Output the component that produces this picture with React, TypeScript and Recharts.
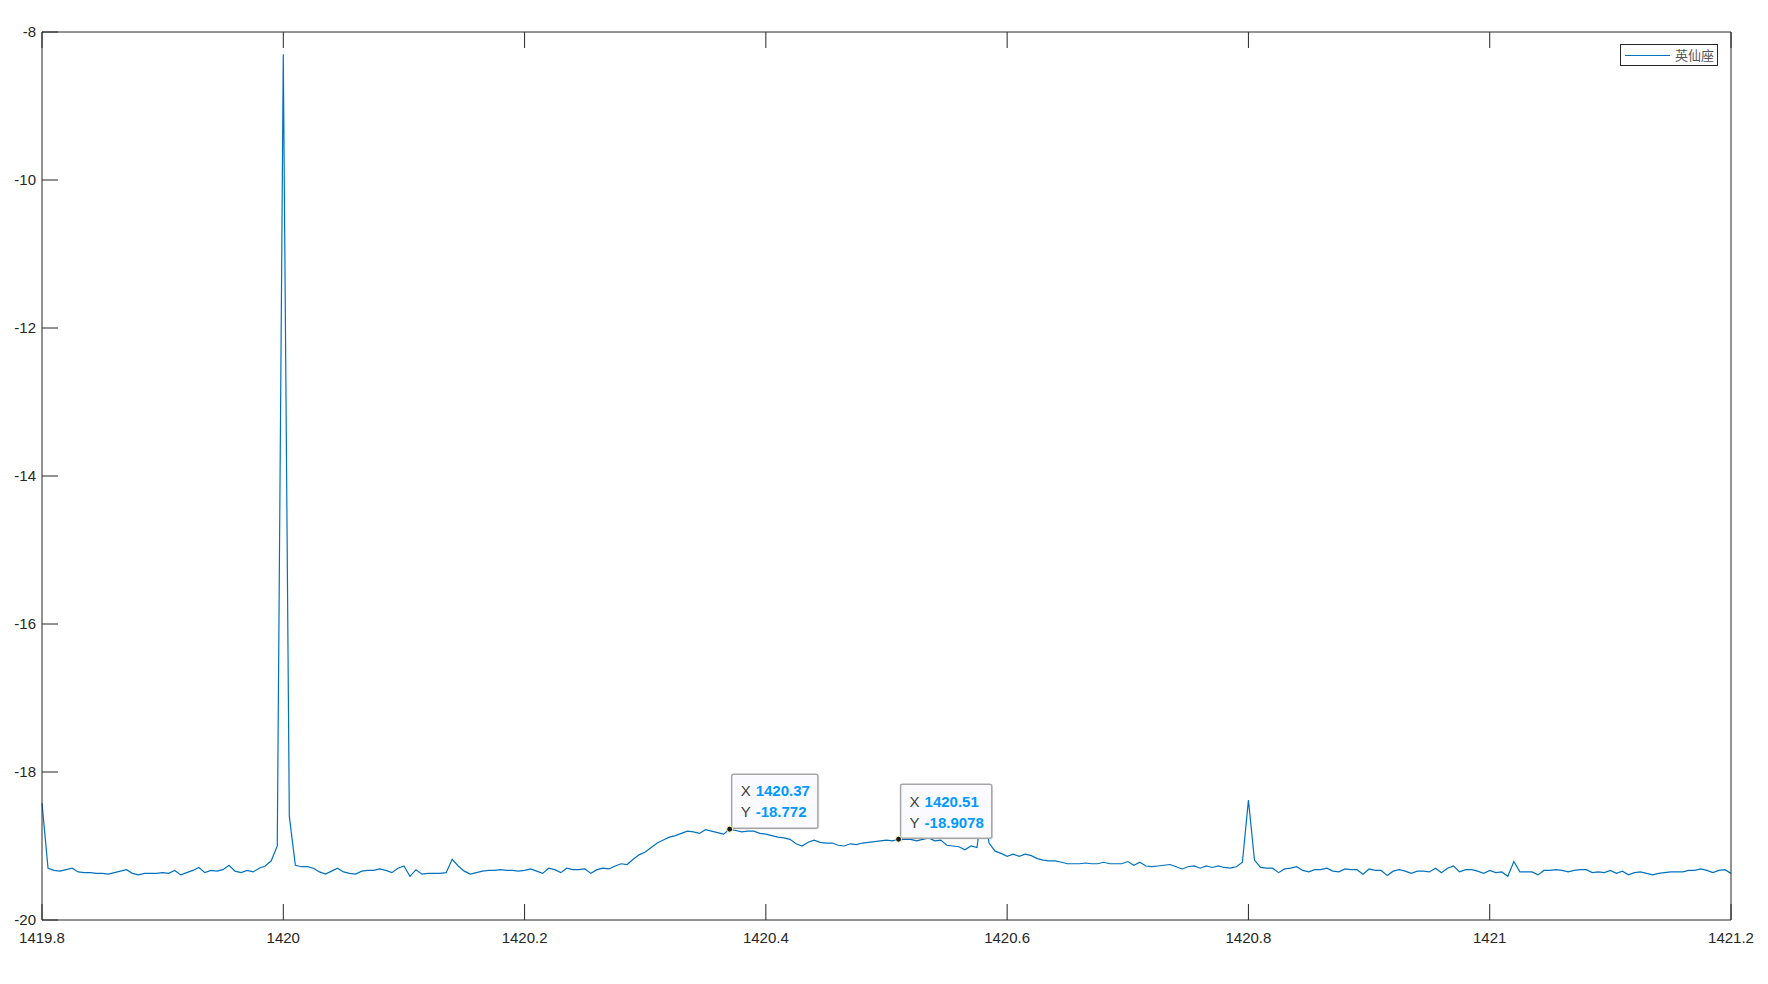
import { LineChart, Line, XAxis, YAxis, ReferenceDot } from "recharts";

// spectrum samples: 1419.8 .. 1421.2 MHz, one every 0.005 MHz
const FREQ_START = 1419.8;
const FREQ_STEP = 0.005;

const power = [
  -18.42, -19.30, -19.33, -19.34, -19.32, -19.30, -19.35, -19.36, -19.36, -19.37,
  -19.37, -19.38, -19.36, -19.34, -19.32, -19.37, -19.39, -19.37, -19.37, -19.37,
  -19.36, -19.37, -19.33, -19.39, -19.36, -19.33, -19.29, -19.36, -19.33, -19.34,
  -19.32, -19.26, -19.34, -19.36, -19.33, -19.35, -19.30, -19.27, -19.20, -19.00,
  -8.30, -18.60, -19.26, -19.28, -19.28, -19.30, -19.35, -19.38, -19.34, -19.30,
  -19.35, -19.37, -19.38, -19.34, -19.33, -19.33, -19.31, -19.33, -19.36, -19.30,
  -19.27, -19.41, -19.32, -19.38, -19.37, -19.37, -19.37, -19.36, -19.18, -19.27,
  -19.34, -19.38, -19.36, -19.34, -19.33, -19.33, -19.32, -19.33, -19.33, -19.34,
  -19.33, -19.31, -19.34, -19.37, -19.30, -19.32, -19.36, -19.30, -19.32, -19.32,
  -19.31, -19.37, -19.32, -19.30, -19.31, -19.27, -19.24, -19.25, -19.18, -19.12,
  -19.08, -19.02, -18.96, -18.92, -18.88, -18.86, -18.83, -18.80, -18.81, -18.83,
  -18.78, -18.80, -18.82, -18.84, -18.772, -18.79, -18.81, -18.80, -18.80, -18.83,
  -18.84, -18.86, -18.88, -18.89, -18.91, -18.97, -19.00, -18.95, -18.92, -18.95,
  -18.96, -18.96, -18.99, -19.00, -18.97, -18.98, -18.96, -18.95, -18.94, -18.93,
  -18.92, -18.93, -18.9078, -18.91, -18.91, -18.93, -18.91, -18.89, -18.93, -18.92,
  -18.99, -19.00, -19.01, -19.05, -19.00, -19.02, -18.40, -18.96, -19.07, -19.10,
  -19.14, -19.11, -19.14, -19.11, -19.13, -19.17, -19.19, -19.20, -19.20, -19.22,
  -19.24, -19.24, -19.24, -19.23, -19.24, -19.24, -19.22, -19.24, -19.24, -19.24,
  -19.21, -19.26, -19.22, -19.27, -19.28, -19.27, -19.26, -19.25, -19.28, -19.31,
  -19.28, -19.27, -19.30, -19.27, -19.29, -19.27, -19.29, -19.30, -19.28, -19.22,
  -18.38, -19.19, -19.29, -19.30, -19.30, -19.36, -19.31, -19.30, -19.28, -19.33,
  -19.35, -19.32, -19.32, -19.30, -19.34, -19.35, -19.31, -19.32, -19.32, -19.38,
  -19.31, -19.33, -19.33, -19.40, -19.34, -19.32, -19.34, -19.37, -19.34, -19.34,
  -19.35, -19.30, -19.36, -19.30, -19.27, -19.35, -19.32, -19.32, -19.34, -19.37,
  -19.33, -19.36, -19.35, -19.41, -19.21, -19.35, -19.35, -19.35, -19.39, -19.33,
  -19.33, -19.32, -19.33, -19.35, -19.33, -19.32, -19.32, -19.36, -19.35, -19.36,
  -19.33, -19.37, -19.34, -19.39, -19.36, -19.35, -19.37, -19.39, -19.37, -19.36,
  -19.35, -19.35, -19.35, -19.33, -19.33, -19.31, -19.33, -19.36, -19.33, -19.32,
  -19.37,
];

const xTicks = [1419.8, 1420, 1420.2, 1420.4, 1420.6, 1420.8, 1421, 1421.2];
const yTicks = [-20, -18, -16, -14, -12, -10, -8];

const tips = [
  { x: 1420.37, y: -18.772 },
  { x: 1420.51, y: -18.9078 },
];

const seriesName = "英仙座";

const data = power.map((p, i) => ({
  freq: Math.round((FREQ_START + i * FREQ_STEP) * 1000) / 1000,
  power: p,
}));

const AXIS = "#262626";
const LINE = "#0072BD";
const TICK_LEN = 16;
const FONT = "'Liberation Sans', Arial, Helvetica, sans-serif";

const fmt = (v: number) => `${+v.toFixed(4)}`;

// eslint-disable-next-line @typescript-eslint/no-explicit-any
function BottomTick({ x, y, payload }: any) {
  return (
    <g>
      <line x1={x} x2={x} y1={y} y2={y - TICK_LEN} stroke={AXIS} strokeWidth={1} />
      <text x={x} y={y + 18} dy="0.355em" textAnchor="middle" fontSize={15} fill={AXIS} fontFamily={FONT}>
        {fmt(payload.value)}
      </text>
    </g>
  );
}

// eslint-disable-next-line @typescript-eslint/no-explicit-any
function LeftTick({ x, y, payload }: any) {
  return (
    <g>
      <line x1={x} x2={x + TICK_LEN} y1={y} y2={y} stroke={AXIS} strokeWidth={1} />
      <text x={x - 6} y={y} dy="0.355em" textAnchor="end" fontSize={15} fill={AXIS} fontFamily={FONT}>
        {fmt(payload.value)}
      </text>
    </g>
  );
}

// top and right axes carry no labels, only inward ticks (MATLAB box)
// eslint-disable-next-line @typescript-eslint/no-explicit-any
function TopTick({ x, y }: any) {
  return <line x1={x} x2={x} y1={y} y2={y + TICK_LEN} stroke={AXIS} strokeWidth={1} />;
}

// eslint-disable-next-line @typescript-eslint/no-explicit-any
function RightTick({ x, y }: any) {
  return <line x1={x} x2={x - TICK_LEN} y1={y} y2={y} stroke={AXIS} strokeWidth={1} />;
}

// rough bold Arial width at 15px
function textWidth(s: string) {
  let w = 0;
  for (const c of s) w += c === "." ? 4.17 : c === "-" ? 5 : 8.34;
  return w;
}

function DataTip({ cx, cy, x, y }: { cx: number; cy: number; x: number; y: number }) {
  const xs = fmt(x);
  const ys = fmt(y);
  const w = 26 + Math.max(textWidth(xs), textWidth(ys)) + 6;
  const left = cx + 2;
  const top = cy - 55;
  return (
    <g>
      <rect x={left + 1.5} y={top + 1.5} width={w} height={54} rx={2} fill="#000" opacity={0.08} />
      <rect x={left} y={top} width={w} height={54} rx={2} fill="#fbfbff" stroke="#a6a6a6" strokeWidth={1.5} />
      <text x={cx + 11} y={cy - 38} dy="0.355em" fontSize={15} fill="#404040" fontFamily={FONT}>X</text>
      <text x={cx + 26} y={cy - 38} dy="0.355em" fontSize={15} fontWeight="bold" fill="#0099FF" fontFamily={FONT}>
        {xs}
      </text>
      <text x={cx + 11} y={cy - 17} dy="0.355em" fontSize={15} fill="#404040" fontFamily={FONT}>Y</text>
      <text x={cx + 26} y={cy - 17} dy="0.355em" fontSize={15} fontWeight="bold" fill="#0099FF" fontFamily={FONT}>
        {ys}
      </text>
      <circle cx={cx} cy={cy} r={3} fill="#1a1a1a" stroke="#fffdc0" strokeWidth={1} />
    </g>
  );
}

export default function App() {
  return (
    <div style={pageStyle}>
      <LineChart
        width={1768}
        height={984}
        data={data}
        margin={{ top: 31, right: 36, bottom: 0, left: 0 }}
      >
        <XAxis
          dataKey="freq"
          type="number"
          domain={[1419.8, 1421.2]}
          ticks={xTicks}
          interval={0}
          height={64}
          tickSize={0}
          tickMargin={0}
          tickLine={false}
          axisLine={{ stroke: AXIS }}
          tick={<BottomTick />}
        />
        <XAxis
          xAxisId="top"
          orientation="top"
          dataKey="freq"
          type="number"
          domain={[1419.8, 1421.2]}
          ticks={xTicks}
          interval={0}
          height={1}
          tickSize={0}
          tickMargin={0}
          tickLine={false}
          axisLine={{ stroke: AXIS }}
          tick={<TopTick />}
        />
        <YAxis
          type="number"
          domain={[-20, -8]}
          ticks={yTicks}
          interval={0}
          width={42}
          tickSize={0}
          tickMargin={0}
          tickLine={false}
          axisLine={{ stroke: AXIS }}
          tick={<LeftTick />}
        />
        <YAxis
          yAxisId="right"
          orientation="right"
          type="number"
          domain={[-20, -8]}
          ticks={yTicks}
          interval={0}
          width={1}
          tickSize={0}
          tickMargin={0}
          tickLine={false}
          axisLine={{ stroke: AXIS }}
          tick={<RightTick />}
        />
        <Line
          dataKey="power"
          name={seriesName}
          stroke={LINE}
          strokeWidth={1.2}
          dot={false}
          activeDot={false}
          isAnimationActive={false}
        />
        {tips.map((t) => (
          <ReferenceDot
            key={t.x}
            x={t.x}
            y={t.y}
            r={3}
            ifOverflow="visible"
            // eslint-disable-next-line @typescript-eslint/no-explicit-any
            shape={(p: any) => <DataTip cx={p.cx} cy={p.cy} x={t.x} y={t.y} />}
          />
        ))}
      </LineChart>
      <div style={legendStyle}>
        <span style={legendLineStyle} />
        <span style={legendTextStyle}>{seriesName}</span>
      </div>
    </div>
  );
}

const pageStyle: React.CSSProperties = {
  position: "absolute",
  left: 0,
  top: 0,
  width: 1768,
  height: 984,
  background: "#fff",
  fontFamily: FONT,
};

const legendStyle: React.CSSProperties = {
  position: "absolute",
  left: 1620,
  top: 44,
  width: 98,
  height: 22,
  boxSizing: "border-box",
  border: `1px solid ${AXIS}`,
  background: "#fff",
  display: "flex",
  alignItems: "center",
};

const legendLineStyle: React.CSSProperties = {
  display: "inline-block",
  marginLeft: 4,
  width: 45,
  height: 0,
  borderTop: `1.5px solid ${LINE}`,
};

const legendTextStyle: React.CSSProperties = {
  marginLeft: 5,
  fontSize: 13,
  color: "#555",
  fontFamily: "'Noto Sans CJK SC', sans-serif",
  lineHeight: "20px",
};
